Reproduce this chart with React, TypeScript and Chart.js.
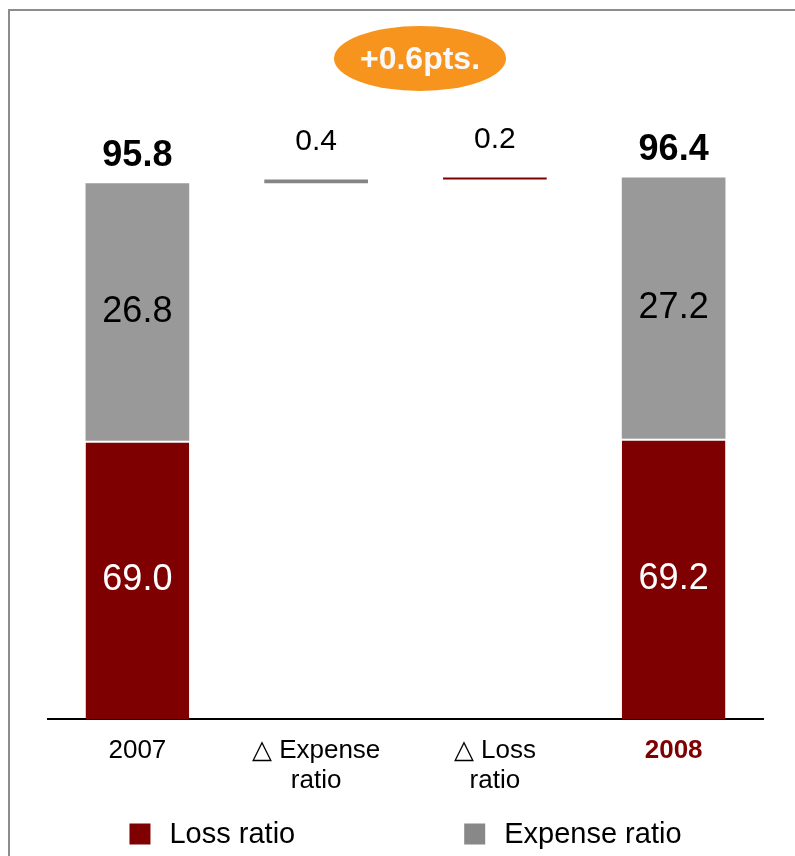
import React, { useEffect, useRef } from 'react';
import { Chart, registerables } from 'chart.js';

Chart.register(...registerables);

// ---- data ----
const categories: string[][] = [['2007'], ['△ Expense', 'ratio'], ['△ Loss', 'ratio'], ['2008']];
const seriesNames = ['Loss ratio', 'Expense ratio'];
const lossRatio: (number | null)[] = [69.0, null, null, 69.2];
const expenseRatio: (number | null)[] = [26.8, null, null, 27.2];
const combinedRatio: (number | null)[] = [95.8, null, null, 96.4];
const deltaExpense = 0.4;
const deltaLoss = 0.2;
const changeLabel = '+0.6pts.';
const yMin = 40;
const yMax = 100;

// waterfall ranges for the change bars, built from the values above
const start2007 = combinedRatio[0] as number;
const deltaExpenseData: any[] = [null, [start2007, start2007 + deltaExpense], null, null];
const deltaLossData: any[] = [null, null, [start2007 + deltaExpense, start2007 + deltaExpense + deltaLoss], null];
const deltaValues: (number | null)[] = [null, deltaExpense, deltaLoss, null];

// ---- styles ----
const FONT = "Arial, 'Liberation Sans', sans-serif";
const LOSS_COLOR = '#7F0000';
const EXP_COLOR = '#999999';
const DELTA_EXP_COLOR = '#858585';
const LEGEND_EXP_COLOR = '#888888';
const ORANGE = '#F7941D';

export default function App() {
  const ref = useRef<HTMLCanvasElement>(null);

  useEffect(() => {
    const canvas = ref.current!;

    const framePlugin = {
      id: 'frame',
      beforeDraw(chart: any) {
        const ctx = chart.ctx;
        ctx.save();
        ctx.fillStyle = '#ffffff';
        ctx.fillRect(0, 0, chart.width, chart.height);
        ctx.strokeStyle = '#8c8c8c';
        ctx.lineWidth = 2;
        ctx.strokeRect(9, 10, chart.width + 50, chart.height + 50);
        ctx.restore();
      },
    };

    const labelPlugin = {
      id: 'labels',
      afterDatasetsDraw(chart: any) {
        const ctx = chart.ctx;
        const area = chart.chartArea;
        ctx.save();
        ctx.textAlign = 'center';
        ctx.textBaseline = 'middle';
        // segment values
        [0, 1].forEach((di) => {
          const meta = chart.getDatasetMeta(di);
          const vals = di === 0 ? lossRatio : expenseRatio;
          meta.data.forEach((el: any, i: number) => {
            const v = vals[i];
            if (v == null) return;
            const top = Math.min(el.y, el.base);
            const bot = Math.min(Math.max(el.y, el.base), area.bottom);
            ctx.font = `36px ${FONT}`;
            ctx.fillStyle = di === 0 ? '#ffffff' : '#000000';
            ctx.fillText(v.toFixed(1), el.x, (top + bot) / 2);
          });
        });
        // totals
        const expMeta = chart.getDatasetMeta(1);
        expMeta.data.forEach((el: any, i: number) => {
          const v = combinedRatio[i];
          if (v == null) return;
          ctx.font = `bold 36px ${FONT}`;
          ctx.fillStyle = '#000000';
          ctx.fillText(v.toFixed(1), el.x, Math.min(el.y, el.base) - 27);
        });
        // deltas
        [2, 3].forEach((di) => {
          const meta = chart.getDatasetMeta(di);
          meta.data.forEach((el: any, i: number) => {
            const v = deltaValues[i];
            if (v == null || (di === 2 && i !== 1) || (di === 3 && i !== 2)) return;
            ctx.font = `30px ${FONT}`;
            ctx.fillStyle = '#000000';
            ctx.fillText(v.toFixed(1), el.x, Math.min(el.y, el.base) - 38);
          });
        });
        ctx.restore();
      },
    };

    const overlayPlugin = {
      id: 'overlay',
      afterDraw(chart: any) {
        const ctx = chart.ctx;
        const area = chart.chartArea;
        const cx = (area.left + area.right) / 2;
        ctx.save();
        // change bubble
        ctx.fillStyle = ORANGE;
        ctx.beginPath();
        ctx.ellipse(cx + 14.5, 58.5, 86, 32.5, 0, 0, Math.PI * 2);
        ctx.fill();
        ctx.fillStyle = '#f8f8f8';
        ctx.font = `bold 32px ${FONT}`;
        ctx.textAlign = 'center';
        ctx.textBaseline = 'middle';
        ctx.fillText(changeLabel, cx + 14.5, 60);

        // legend
        const items = [
          { label: seriesNames[0], color: LOSS_COLOR },
          { label: seriesNames[1], color: LEGEND_EXP_COLOR },
        ];
        const box = 21;
        const gapText = 19;
        const gapItems = 169;
        ctx.font = `29px ${FONT}`;
        const widths = items.map((it) => box + gapText + ctx.measureText(it.label).width);
        const total = widths.reduce((a, b) => a + b, 0) + gapItems;
        let x = cx - total / 2;
        const y = chart.height - 22;
        ctx.textAlign = 'left';
        items.forEach((it, k) => {
          ctx.fillStyle = it.color;
          ctx.fillRect(x, y - box / 2, box, box);
          ctx.fillStyle = '#000000';
          ctx.fillText(it.label, x + box + gapText, y + 1);
          x += widths[k] + gapItems;
        });
        ctx.restore();
      },
    };

    const chart = new Chart(canvas, {
      type: 'bar',
      data: {
        labels: categories as any,
        datasets: [
          {
            label: seriesNames[0],
            data: lossRatio,
            backgroundColor: LOSS_COLOR,
            borderColor: '#ffffff',
            borderWidth: { top: 2, left: 0, right: 0, bottom: 0 },
            borderSkipped: false,
            stack: 's',
            clip: 0,
          } as any,
          {
            label: seriesNames[1],
            data: expenseRatio,
            backgroundColor: EXP_COLOR,
            borderWidth: 0,
            stack: 's',
            clip: 0,
          } as any,
          {
            label: '△ Expense ratio',
            data: deltaExpenseData,
            backgroundColor: DELTA_EXP_COLOR,
            borderWidth: 0,
            stack: 's',
            clip: 0,
          } as any,
          {
            label: '△ Loss ratio',
            data: deltaLossData,
            backgroundColor: LOSS_COLOR,
            borderWidth: 0,
            stack: 's',
            clip: 0,
          } as any,
        ],
      },
      options: {
        responsive: false,
        animation: false,
        layout: { padding: { left: 48, right: 32, top: 143, bottom: 43 } },
        datasets: { bar: { barPercentage: 0.58, categoryPercentage: 1 } } as any,
        plugins: { legend: { display: false }, tooltip: { enabled: false } },
        scales: {
          x: {
            stacked: true,
            grid: { display: false, drawTicks: false },
            border: { display: true, color: '#000000', width: 2 },
            ticks: {
              padding: 17,
              maxRotation: 0,
              autoSkip: false,
              font: (c: any) => ({
                family: FONT,
                size: 26,
                weight: c.index === 3 ? 'bold' : 'normal',
                lineHeight: 1.15,
              }),
              color: (c: any) => (c.index === 3 ? LOSS_COLOR : '#000000'),
            },
          },
          y: { stacked: true, display: false, min: yMin, max: yMax },
        },
      } as any,
      plugins: [framePlugin, labelPlugin, overlayPlugin],
    });
    return () => chart.destroy();
  }, []);

  return (
    <div
      style={{
        position: 'absolute',
        left: 0,
        top: 0,
        width: 795,
        height: 856,
        overflow: 'hidden',
        background: '#ffffff',
      }}
    >
      <canvas ref={ref} width={795} height={856} style={{ display: 'block' }} />
    </div>
  );
}
